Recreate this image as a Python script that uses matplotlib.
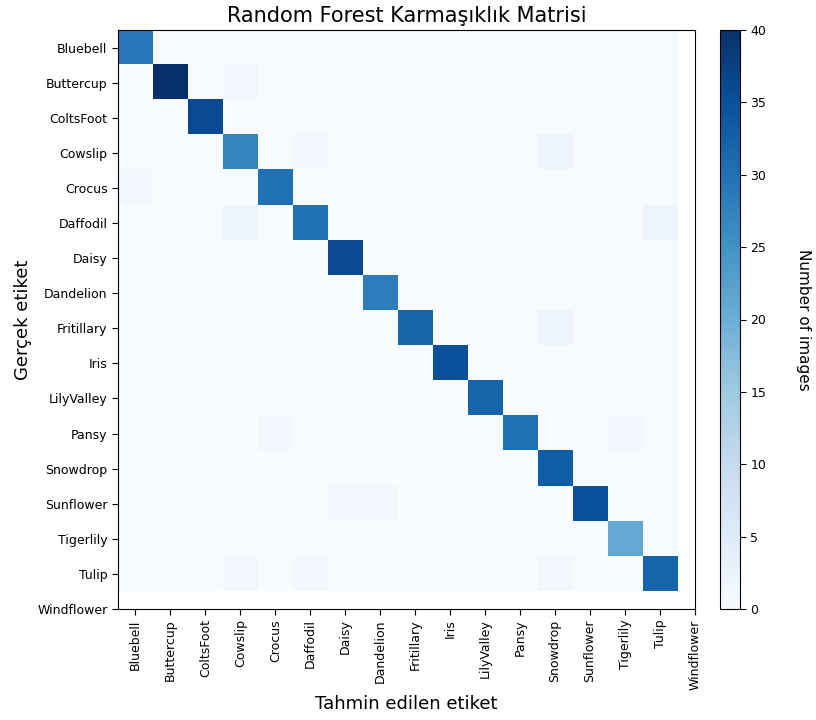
import numpy as np
import matplotlib
matplotlib.use("Agg")
import matplotlib.pyplot as plt

classes = ['Bluebell', 'Buttercup', 'ColtsFoot', 'Cowslip', 'Crocus', 'Daffodil',
           'Daisy', 'Dandelion', 'Fritillary', 'Iris', 'LilyValley', 'Pansy',
           'Snowdrop', 'Sunflower', 'Tigerlily', 'Tulip', 'Windflower']

# correct predictions per class (first 16 classes)
diag = [29, 40, 36, 27, 30, 30, 36, 28, 32, 35, 32, 30, 33, 35, 21, 32]

# misclassifications: (true row, predicted col, count)
errors = [(1, 3, 1), (3, 5, 1), (3, 12, 2), (4, 0, 1), (5, 3, 2), (5, 15, 2),
          (8, 12, 2), (11, 4, 1), (11, 14, 1), (13, 6, 1), (13, 7, 1),
          (15, 3, 1), (15, 5, 1), (15, 12, 1)]

cm = np.diag(diag).astype(float)
for r, c, v in errors:
    cm[r, c] = v

fig = plt.figure(figsize=(8.16, 7.2), dpi=100)
ax = fig.add_axes([0.1446, 0.1542, 0.7071, 0.8041])
cax = fig.add_axes([0.8824, 0.1542, 0.0245, 0.8041])

im = ax.imshow(cm, interpolation='nearest', cmap=plt.cm.Blues, vmin=0, vmax=40,
               aspect='auto')
ax.set_xlim(-0.5, 16)
ax.set_ylim(16, -0.5)

ticks = np.arange(len(classes))
ax.set_xticks(ticks)
ax.set_xticklabels(classes, rotation=90, fontsize=9)
ax.set_yticks(ticks)
ax.set_yticklabels(classes, fontsize=9)
ax.tick_params(direction='out', length=4, top=False, right=False)

ax.set_title('Random Forest Karmaşıklık Matrisi', fontsize=15)
ax.set_ylabel('Gerçek etiket', fontsize=13)
ax.set_xlabel('Tahmin edilen etiket', fontsize=13)

cbar = fig.colorbar(im, cax=cax)
cbar.set_ticks([0, 5, 10, 15, 20, 25, 30, 35, 40])
cbar.ax.tick_params(labelsize=9, direction='out', length=4)
cbar.set_label('Number of images', rotation=270, labelpad=32, fontsize=11)

fig.savefig('out.png', dpi=100)
